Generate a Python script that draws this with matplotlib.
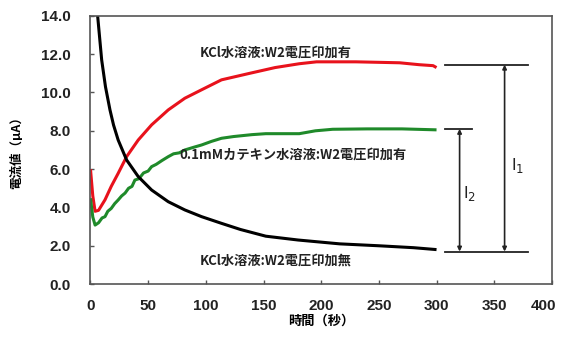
import matplotlib
matplotlib.use("Agg")
import matplotlib.pyplot as plt
from matplotlib.transforms import ScaledTranslation

plt.rcParams['font.family'] = ['Noto Sans CJK JP', 'DejaVu Sans']

# Data
t_black = [4, 6.2, 9.7, 13, 16.9, 20, 24, 31.3, 41.4, 53, 67.4, 81.8, 96.3, 113.6, 130, 152, 180, 216, 250, 280, 300]
v_black = [15.5, 14.0, 11.7, 10.3, 9.09, 8.3, 7.52, 6.48, 5.61, 4.91, 4.30, 3.87, 3.52, 3.17, 2.85, 2.5, 2.3, 2.1, 2.0, 1.9, 1.8]

t_red = [0, 2, 4, 7, 12.6, 18, 24, 31.3, 41.4, 53, 67.4, 81.8, 96.3, 113.6, 138, 160, 181, 196, 230, 268, 285, 297, 300]
v_red = [6.0, 4.6, 3.8, 3.85, 4.4, 5.1, 5.78, 6.65, 7.52, 8.31, 9.09, 9.7, 10.14, 10.66, 11.0, 11.3, 11.5, 11.6, 11.6, 11.55, 11.45, 11.4, 11.3]

t_green = [0, 2, 4, 7, 10, 12.6, 15, 18, 21, 24, 27, 30, 33, 36, 38.5, 42, 46, 50, 53, 57, 62, 67.4,
           72, 77, 81.8, 90, 96.3, 105, 113.6, 124, 140, 152, 181, 195, 210, 240, 270, 300]
v_green = [4.48, 3.5, 3.08, 3.2, 3.45, 3.52, 3.8, 3.95, 4.2, 4.39, 4.6, 4.75, 5.0, 5.1, 5.43, 5.5, 5.8, 5.9,
           6.13, 6.25, 6.45, 6.65, 6.8, 6.85, 7.0, 7.15, 7.26, 7.45, 7.61, 7.7, 7.8, 7.85, 7.85, 8.0, 8.08,
           8.1, 8.1, 8.05]

label_red = "KCl水溶液:W2電圧印加有"
label_green = "0.1mMカテキン水溶液:W2電圧印加有"
label_black = "KCl水溶液:W2電圧印加無"

y_ticks = [0, 2, 4, 6, 8, 10, 12, 14]
x_ticks = [0, 50, 100, 150, 200, 250, 300, 350, 400]

# annotation levels
lvl_i1_top = 11.45
lvl_i2_top = 8.1
lvl_bottom = 1.7

fig = plt.figure(figsize=(5.62, 3.37), dpi=100)
ax = fig.add_axes([0.161, 0.157, 0.821, 0.796])

ax.plot(t_red, v_red, color='#e8121c', lw=2.2, solid_capstyle='butt', solid_joinstyle='round')
ax.plot(t_green, v_green, color='#1f8a2a', lw=2.2, solid_capstyle='butt', solid_joinstyle='round')
ax.plot(t_black, v_black, color='black', lw=2.2, solid_capstyle='butt', solid_joinstyle='round')

ax.set_xlim(0, 400)
ax.set_ylim(0, 14)
ax.set_xticks(x_ticks)
ax.set_yticks(y_ticks)
ax.set_yticklabels([f"{v:.1f}" for v in y_ticks])
ax.set_xticklabels([str(v) for v in x_ticks])
ax.tick_params(direction='in', length=3, width=1, colors='#555555', labelcolor='#222222')
ax.tick_params(axis='x', pad=11)
ax.tick_params(axis='y', pad=14)
for lab in ax.get_xticklabels() + ax.get_yticklabels():
    lab.set_fontfamily(['Liberation Sans', 'DejaVu Sans'])
    lab.set_fontsize(11)
    lab.set_fontweight('bold')
last = ax.get_xticklabels()[-1]
last.set_transform(last.get_transform() + ScaledTranslation(-6 / 72, 0, fig.dpi_scale_trans))
for s in ax.spines.values():
    s.set_color('#555555')
    s.set_linewidth(1.2)

ax.set_ylabel("電流値（μA）", fontsize=9, fontweight='bold', labelpad=13)
ax.set_xlabel("時間（秒）", fontsize=9.5, fontweight='bold', labelpad=0)

ax.text(95, 12.1, label_red, fontsize=9.5, fontweight='bold', va='center', ha='left', color='#222222')
ax.text(77, 6.75, label_green, fontsize=9.5, fontweight='bold', va='center', ha='left', color='#222222')
ax.text(95, 1.25, label_black, fontsize=9.5, fontweight='bold', va='center', ha='left', color='#222222')

# reference lines
ax.plot([307, 379], [lvl_i1_top, lvl_i1_top], color='#222222', lw=1.3)
ax.plot([307, 331], [lvl_i2_top, lvl_i2_top], color='#222222', lw=1.3)
ax.plot([307, 379], [lvl_bottom, lvl_bottom], color='#222222', lw=1.3)
arrow = dict(arrowstyle='<|-|>', color='#222222', lw=1.2, mutation_scale=6, shrinkA=0, shrinkB=0)
ax.annotate('', xy=(320, lvl_i2_top), xytext=(320, lvl_bottom), arrowprops=arrow)
ax.annotate('', xy=(359, lvl_i1_top), xytext=(359, lvl_bottom), arrowprops=arrow)
ax.text(329, 4.75, "I$_2$", fontsize=12, ha='center', va='center', color='#222222',
        family=['Liberation Sans', 'DejaVu Sans'])
ax.text(370, 6.2, "I$_1$", fontsize=12, ha='center', va='center', color='#222222',
        family=['Liberation Sans', 'DejaVu Sans'])

fig.savefig("out.png", dpi=100)
